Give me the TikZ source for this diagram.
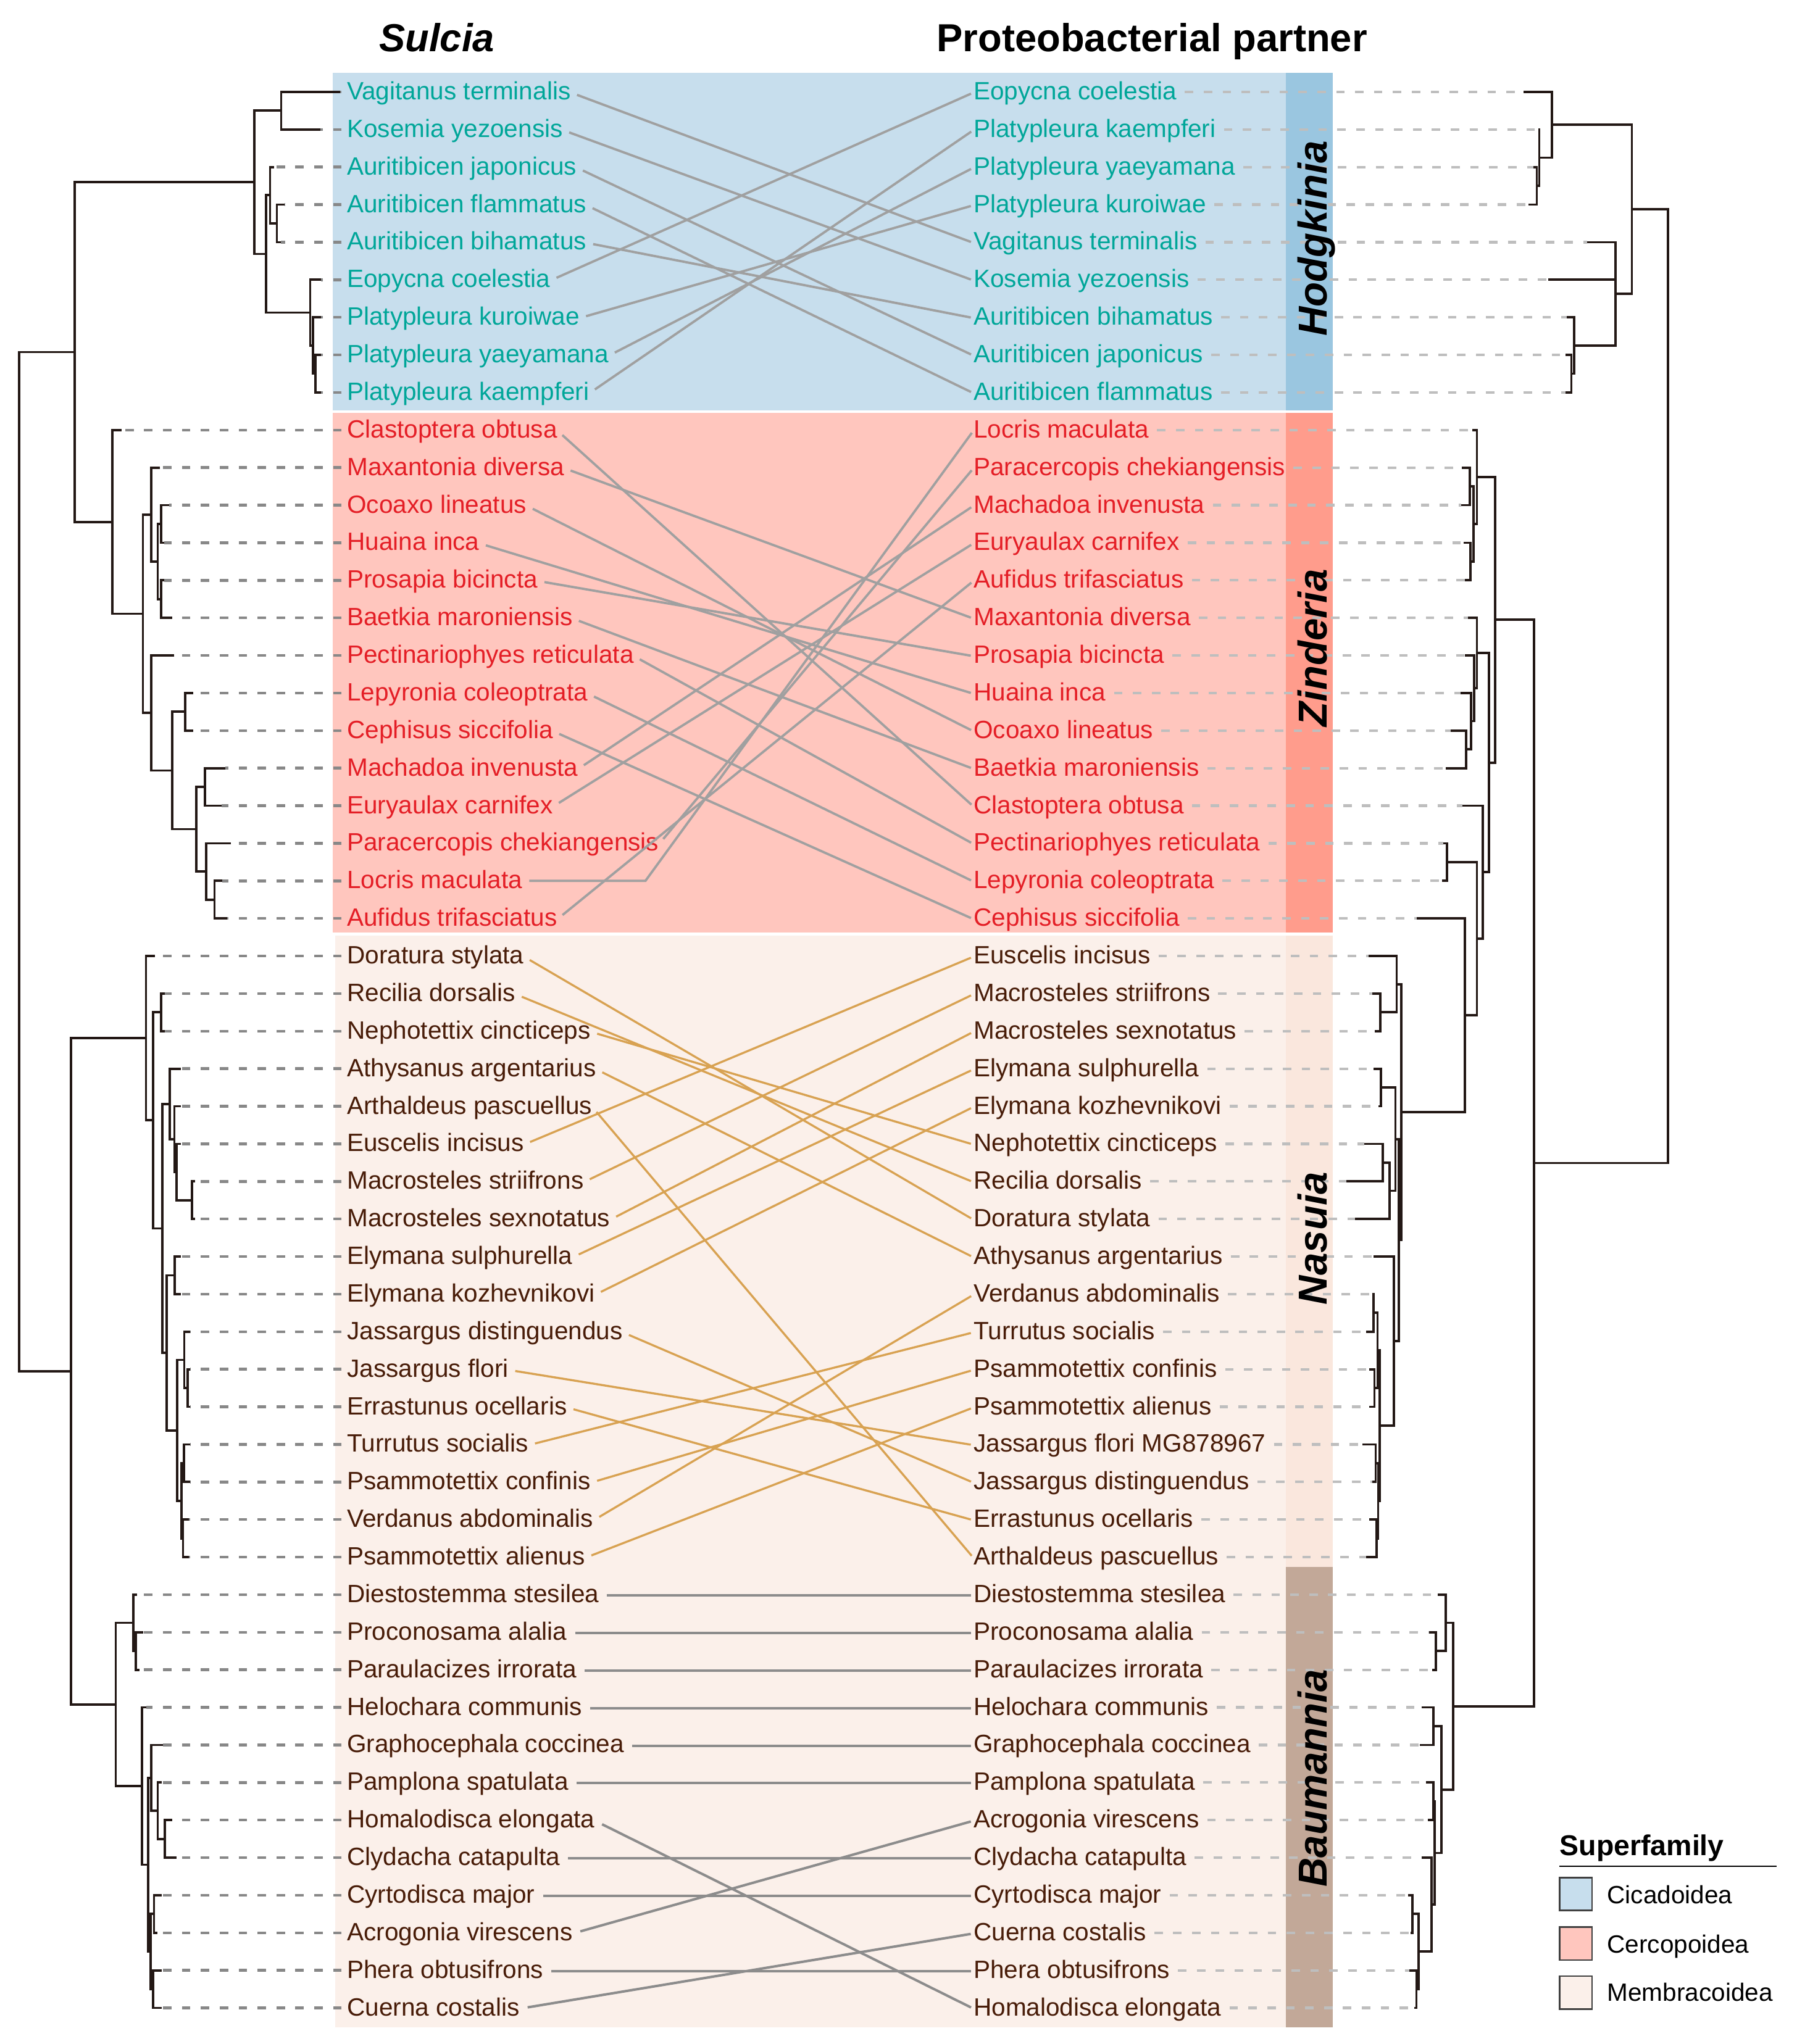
\documentclass[tikz,border=0pt]{standalone}
\usepackage{fontspec}
\setmainfont{Liberation Sans}
\definecolor{cteal}{RGB}{0,166,153}
\definecolor{cred}{RGB}{228,30,38}
\definecolor{cbrown}{RGB}{72,28,8}
\definecolor{ctree}{RGB}{35,24,21}
\definecolor{bgblue}{RGB}{199,222,237}
\definecolor{stblue}{RGB}{154,198,224}
\definecolor{bgpink}{RGB}{255,198,190}
\definecolor{stpink}{RGB}{255,156,140}
\definecolor{bgmemb}{RGB}{251,240,234}
\definecolor{stnas}{RGB}{250,231,221}
\definecolor{stbaum}{RGB}{194,168,152}
\definecolor{cgrayA}{RGB}{160,160,160}
\definecolor{cgrayB}{RGB}{140,140,140}
\definecolor{corange}{RGB}{216,162,82}
\definecolor{ldashc}{RGB}{136,136,136}
\definecolor{rdashc}{RGB}{190,190,190}
\newcommand\brn[5]{\draw[treeln] (#2,#3) -| (#1,#5) -- (#4,#5);}
\tikzset{
  treeln/.style={draw=ctree, line width=1.8pt, line join=miter},
  tlab/.style={inner sep=0pt, anchor=base west, font=\fontsize{19.2}{23}\selectfont, text height=13.75pt, text depth=3pt},
  ldash/.style={draw=ldashc, line width=2.1pt, dash pattern=on 6.5pt off 8pt},
  rdash/.style={draw=rdashc, line width=2pt, dash pattern=on 6.5pt off 8pt},
  connA/.style={draw=cgrayA, line width=1.8pt, shorten <=5pt, shorten >=2pt},
  connB/.style={draw=cgrayB, line width=1.9pt, shorten <=6pt, shorten >=2pt},
  connO/.style={draw=corange, line width=1.6pt, shorten <=5pt, shorten >=2pt},
  glab/.style={rotate=90, anchor=base, inner sep=0pt, font=\bfseries\itshape\fontsize{31}{36}\selectfont},
  title/.style={anchor=base, inner sep=0pt, font=\bfseries\fontsize{30}{36}\selectfont},
  legbox/.style={draw={rgb,255:red,64;green,64;blue,64}, line width=1.2pt},
  legtxt/.style={anchor=base west, inner sep=0pt, font=\fontsize{19.2}{23}\selectfont}
}
\begin{document}
\begin{tikzpicture}[x=1pt,y=-1pt]
\useasboundingbox (0,0) rectangle (1378,1568);
% backgrounds
\fill[bgblue] (255,56) rectangle (986,315);
\fill[stblue] (986,56) rectangle (1022,315);
\fill[bgpink] (255,316.5) rectangle (986,715.5);
\fill[stpink] (986,316.5) rectangle (1022,715.5);
\fill[bgmemb] (257,717.5) rectangle (986,1555);
\fill[stnas] (986,717.5) rectangle (1022,1202);
\fill[stbaum] (986,1202) rectangle (1022,1555);
% titles
\node[title, font=\bfseries\itshape\fontsize{30}{36}\selectfont] (tS) at (335,39.5) {Sulcia};
\node[title] (tP) at (883.5,39.5) {Proteobacterial partner};

\begin{scope}[yshift=-70.5pt, y=-28.82pt]
% left labels
\foreach \i/\t in {0/Vagitanus terminalis,1/Kosemia yezoensis,2/Auritibicen japonicus,3/Auritibicen flammatus,4/Auritibicen bihamatus,5/Eopycna coelestia,6/Platypleura kuroiwae,7/Platypleura yaeyamana,8/Platypleura kaempferi}
  \node[tlab, text=cteal] (L\i) at (266,\i+0.205) {\t};
\foreach \i/\t in {9/Clastoptera obtusa,10/Maxantonia diversa,11/Ocoaxo lineatus,12/Huaina inca,13/Prosapia bicincta,14/Baetkia maroniensis,15/Pectinariophyes reticulata,16/Lepyronia coleoptrata,17/Cephisus siccifolia,18/Machadoa invenusta,19/Euryaulax carnifex,20/Paracercopis chekiangensis,21/Locris maculata,22/Aufidus trifasciatus}
  \node[tlab, text=cred] (L\i) at (266,\i+0.205) {\t};
\foreach \i/\t in {23/Doratura stylata,24/Recilia dorsalis,25/Nephotettix cincticeps,26/Athysanus argentarius,27/Arthaldeus pascuellus,28/Euscelis incisus,29/Macrosteles striifrons,30/Macrosteles sexnotatus,31/Elymana sulphurella,32/Elymana kozhevnikovi,33/Jassargus distinguendus,34/Jassargus flori,35/Errastunus ocellaris,36/Turrutus socialis,37/Psammotettix confinis,38/Verdanus abdominalis,39/Psammotettix alienus,40/Diestostemma stesilea,41/Proconosama alalia,42/Paraulacizes irrorata,43/Helochara communis,44/Graphocephala coccinea,45/Pamplona spatulata,46/Homalodisca elongata,47/Clydacha catapulta,48/Cyrtodisca major,49/Acrogonia virescens,50/Phera obtusifrons,51/Cuerna costalis}
  \node[tlab, text=cbrown] (L\i) at (266,\i+0.205) {\t};
% right labels
\foreach \i/\t in {0/Eopycna coelestia,1/Platypleura kaempferi,2/Platypleura yaeyamana,3/Platypleura kuroiwae,4/Vagitanus terminalis,5/Kosemia yezoensis,6/Auritibicen bihamatus,7/Auritibicen japonicus,8/Auritibicen flammatus}
  \node[tlab, text=cteal] (R\i) at (746.5,\i+0.205) {\t};
\foreach \i/\t in {9/Locris maculata,10/Paracercopis chekiangensis,11/Machadoa invenusta,12/Euryaulax carnifex,13/Aufidus trifasciatus,14/Maxantonia diversa,15/Prosapia bicincta,16/Huaina inca,17/Ocoaxo lineatus,18/Baetkia maroniensis,19/Clastoptera obtusa,20/Pectinariophyes reticulata,21/Lepyronia coleoptrata,22/Cephisus siccifolia}
  \node[tlab, text=cred] (R\i) at (746.5,\i+0.205) {\t};
\foreach \i/\t in {23/Euscelis incisus,24/Macrosteles striifrons,25/Macrosteles sexnotatus,26/Elymana sulphurella,27/Elymana kozhevnikovi,28/Nephotettix cincticeps,29/Recilia dorsalis,30/Doratura stylata,31/Athysanus argentarius,32/Verdanus abdominalis,33/Turrutus socialis,34/Psammotettix confinis,35/Psammotettix alienus,36/Jassargus flori MG878967,37/Jassargus distinguendus,38/Errastunus ocellaris,39/Arthaldeus pascuellus,40/Diestostemma stesilea,41/Proconosama alalia,42/Paraulacizes irrorata,43/Helochara communis,44/Graphocephala coccinea,45/Pamplona spatulata,46/Acrogonia virescens,47/Clydacha catapulta,48/Cyrtodisca major,49/Cuerna costalis,50/Phera obtusifrons,51/Homalodisca elongata}
  \node[tlab, text=cbrown] (R\i) at (746.5,\i+0.205) {\t};
% connectors
\foreach \a/\b in {0/4,1/5,2/7,3/8,4/6,5/0,6/3,7/2,8/1,9/19,10/14,11/17,12/16,13/15,14/18,15/20,16/21,17/22,18/11,19/12,20/10,22/13}
  \draw[connA] (L\a.east) -- (R\b.west);
\coordinate (lk) at (495,21);
\draw[connA] (L21.east |- lk) -- (lk) -- (R9.west);
\foreach \a/\b in {23/30,24/29,25/28,26/31,27/39,28/23,29/24,30/25,31/26,32/27,33/37,34/36,35/38,36/33,37/34,38/32,39/35}
  \draw[connO] (L\a.east) -- (R\b.west);
\foreach \a/\b in {40/40,41/41,42/42,43/43,44/44,45/45,46/51,47/47,48/48,49/46,50/50,51/49}
  \draw[connB] (L\a.east) -- (R\b.west);
% left dashes
\foreach \i/\tx in {0/260.9,1/245.5,2/210.1,3/218.3,4/215.6,5/246.4,6/246.4,7/246.4,8/246.4,9/93.3,10/122.8,11/129.5,12/125.9,13/125.9,14/132.2,15/133.7,16/148.2,17/148.2,18/173,19/169.9,20/177.2,21/170.3,22/174.3,23/118.7,24/126.4,25/126.4,26/138.6,27/138.6,28/138.6,29/149.5,30/149.5,31/138.6,32/138.6,33/145.8,34/145.8,35/145.8,36/145.8,37/145.8,38/145,39/145,40/105.1,41/109.6,42/106.9,43/112.3,44/125,45/124.1,46/132.2,47/135.5,48/124.1,49/120.5,50/124.1,51/124.1}
  \draw[ldash] (262,\i) -- (\tx,\i);
% right dashes
\foreach \i/\tx in {0/1168.3,1/1180,2/1175.9,3/1172.2,4/1217.3,5/1187.4,6/1201.6,7/1200.5,8/1200.5,9/1129.2,10/1121.2,11/1120.7,12/1122.4,13/1123.5,14/1125.8,15/1123.5,16/1120,17/1112.5,18/1108.6,19/1121.7,20/1107,21/1105.8,22/1086.7,23/1049.5,24/1052.3,25/1054.1,26/1053.4,27/1057.3,28/1046.5,29/1032.7,30/1039.2,31/1053.4,32/1052.3,33/1047.7,34/1050,35/1050,36/1044.9,37/1052.3,38/1050,39/1047.7,40/1102.8,41/1095.9,42/1098.2,43/1090.2,44/1089,45/1093.6,46/1094.8,47/1090.2,48/1079.8,49/1081.7,50/1081,51/1084.4}
  {\coordinate (rr) at (0,\i); \draw[rdash] (R\i.east |- rr) ++(6,0) -- (\tx,\i);}
% ===== left tree (Sulcia) =====
\brn{215.6}{260.9}{0}{245.5}{1}
\brn{212.3}{218.3}{3}{215.6}{4}
\brn{207.1}{210.1}{2}{212.3}{3.5}
\brn{241.8}{246.4}{7}{246.4}{8}
\brn{240}{246.4}{6}{241.8}{7.5}
\brn{237.9}{246.4}{5}{240}{6.75}
\brn{204.2}{207.1}{2.75}{237.9}{5.875}
\brn{195.1}{215.6}{0.5}{204.2}{4.3125}
\brn{123.7}{129.5}{11}{125.9}{12}
\brn{123.7}{125.9}{13}{132.2}{14}
\brn{121}{123.7}{11.5}{123.7}{13.5}
\brn{115.9}{122.8}{10}{121}{12.5}
\brn{142.2}{148.2}{16}{148.2}{17}
\brn{157.2}{173}{18}{169.9}{19}
\brn{164.5}{170.3}{21}{174.3}{22}
\brn{158.2}{177.2}{20}{164.5}{21.5}
\brn{150.7}{157.2}{18.5}{158.2}{20.75}
\brn{132.2}{142.2}{16.5}{150.7}{19.625}
\brn{115.9}{133.7}{15}{132.2}{18.0625}
\brn{109.6}{115.9}{11.25}{115.9}{16.53125}
\brn{86.1}{93.3}{9}{109.6}{13.890625}
\brn{57.1}{195.1}{2.40625}{86.1}{11.4453}
\brn{123.7}{126.4}{24}{126.4}{25}
\brn{147.1}{149.5}{29}{149.5}{30}
\brn{135.5}{138.6}{28}{147.1}{29.5}
\brn{133.7}{138.6}{27}{135.5}{28.75}
\brn{130.1}{138.6}{26}{133.7}{27.875}
\brn{134.1}{138.6}{31}{138.6}{32}
\brn{144}{145.8}{34}{145.8}{35}
\brn{141.3}{145.8}{33}{144}{34.5}
\brn{141}{145.8}{36}{145.8}{37}
\brn{140.4}{145}{38}{145}{39}
\brn{139.1}{141}{36.5}{140.4}{38.5}
\brn{135.9}{141.3}{33.75}{139.1}{37.5}
\brn{127.9}{134.1}{31.5}{135.9}{35.625}
\brn{124.6}{130.1}{26.9375}{127.9}{33.5625}
\brn{117.4}{123.7}{24.5}{124.6}{30.25}
\brn{112}{118.7}{23}{117.4}{27.375}
\brn{104.2}{109.6}{41}{106.9}{42}
\brn{102.4}{105.1}{40}{104.2}{41.5}
\brn{126.4}{132.2}{46}{135.5}{47}
\brn{121}{124.1}{45}{126.4}{46.5}
\brn{115.9}{125}{44}{121}{45.75}
\brn{118.1}{124.1}{48}{120.5}{49}
\brn{117.4}{124.1}{50}{124.1}{51}
\brn{115.6}{118.1}{48.5}{117.4}{50.5}
\brn{113.8}{115.9}{44.875}{115.6}{49.5}
\brn{108.7}{112.3}{43}{113.8}{47.1875}
\brn{88.8}{102.4}{40.75}{108.7}{45.09375}
\brn{54.3}{112}{25.1875}{88.8}{42.921875}
\brn{14.5}{57.1}{6.92578}{54.3}{34.0547}
% ===== right tree (partner) =====
\brn{1178.6}{1175.9}{2}{1172.2}{3}
\brn{1180.5}{1180}{1}{1178.6}{2.5}
\brn{1190.1}{1168.3}{0}{1180.5}{1.75}
\brn{1205.1}{1200.5}{7}{1200.5}{8}
\brn{1207.4}{1201.6}{6}{1205.1}{7.5}
\brn{1238.9}{1217.3}{4}{1207.4}{6.75}
\draw[treeln] (1187.4,5) -- (1238.9,5);
\brn{1251.5}{1190.1}{0.875}{1238.9}{5.375}
\brn{1127.2}{1121.2}{10}{1120.7}{11}
\brn{1127.6}{1122.4}{12}{1123.5}{13}
\brn{1129.9}{1127.2}{10.5}{1127.6}{12.5}
\brn{1132.7}{1129.2}{9}{1129.9}{11.5}
\brn{1124.2}{1112.5}{17}{1108.6}{18}
\brn{1128.1}{1120}{16}{1124.2}{17.5}
\brn{1130.4}{1123.5}{15}{1128.1}{16.75}
\brn{1132.7}{1125.8}{14}{1130.4}{15.875}
\brn{1109.7}{1107}{20}{1105.8}{21}
\brn{1058.7}{1052.3}{24}{1054.1}{25}
\brn{1071.1}{1049.5}{23}{1058.7}{24.5}
\brn{1059.2}{1053.4}{26}{1057.3}{27}
\brn{1060.3}{1046.5}{28}{1032.7}{29}
\brn{1065.6}{1060.3}{28.5}{1039.2}{30}
\brn{1070.2}{1059.2}{26.5}{1065.6}{29.25}
\brn{1053.4}{1052.3}{32}{1047.7}{33}
\brn{1054.1}{1050}{34}{1050}{35}
\brn{1056.4}{1053.4}{32.5}{1054.1}{34.5}
\brn{1055}{1044.9}{36}{1052.3}{37}
\brn{1055.7}{1050}{38}{1047.7}{39}
\brn{1056.9}{1055}{36.5}{1055.7}{38.5}
\brn{1058}{1056.4}{33.5}{1056.9}{37.5}
\brn{1068.8}{1053.4}{31}{1058}{35.5}
\brn{1072.9}{1070.2}{27.875}{1068.8}{33.25}
\brn{1074.8}{1071.1}{23.75}{1072.9}{30.5625}
\brn{1123.5}{1086.7}{22}{1074.8}{27.15625}
\brn{1132.7}{1109.7}{20.5}{1123.5}{24.578}
\brn{1137.3}{1121.7}{19}{1132.7}{22.539}
\brn{1141.9}{1132.7}{14.9375}{1137.3}{20.77}
\brn{1146.5}{1132.7}{10.25}{1141.9}{17.853}
\brn{1101}{1095.9}{41}{1098.2}{42}
\brn{1108.6}{1102.8}{40}{1101}{41.5}
\brn{1099.4}{1090.2}{43}{1089}{44}
\brn{1099.4}{1093.6}{45}{1094.8}{46}
\brn{1083.3}{1079.8}{48}{1081.7}{49}
\brn{1086.3}{1081}{50}{1084.4}{51}
\brn{1087.9}{1083.3}{48.5}{1086.3}{50.5}
\brn{1097.8}{1090.2}{47}{1087.9}{49.5}
\brn{1100.1}{1099.4}{45.5}{1097.8}{48.25}
\brn{1105.6}{1099.4}{43.5}{1100.1}{46.875}
\brn{1114.3}{1108.6}{40.75}{1105.6}{45.1875}
\brn{1176.3}{1146.5}{14.05}{1114.3}{42.96875}
\brn{1279.1}{1251.5}{3.125}{1176.3}{28.509}
\end{scope}
% group labels
\node[glab] (gH) at (1017.5,183) {Hodgkinia};
\node[glab] (gZ) at (1017.5,497) {Zinderia};
\node[glab] (gN) at (1017.5,950) {Nasuia};
\node[glab] (gB) at (1017.5,1364) {Baumannia};
% legend
\node[anchor=base west, inner sep=0pt, font=\bfseries\fontsize{22}{26}\selectfont] (legT) at (1196,1423.3) {Superfamily};
\draw[line width=1.2pt] (1195.8,1431.7) -- (1362.6,1431.7);
\draw[legbox, fill=bgblue] (1196,1440.3) rectangle (1221,1465.6);
\draw[legbox, fill=bgpink] (1196,1478.2) rectangle (1221,1503.5);
\draw[legbox, fill=bgmemb] (1196,1516) rectangle (1221,1541.3);
\node[legtxt] (lg1) at (1232.4,1460.4) {Cicadoidea};
\node[legtxt] (lg2) at (1232.4,1498.2) {Cercopoidea};
\node[legtxt] (lg3) at (1232.4,1535.3) {Membracoidea};
\end{tikzpicture}
\end{document}
